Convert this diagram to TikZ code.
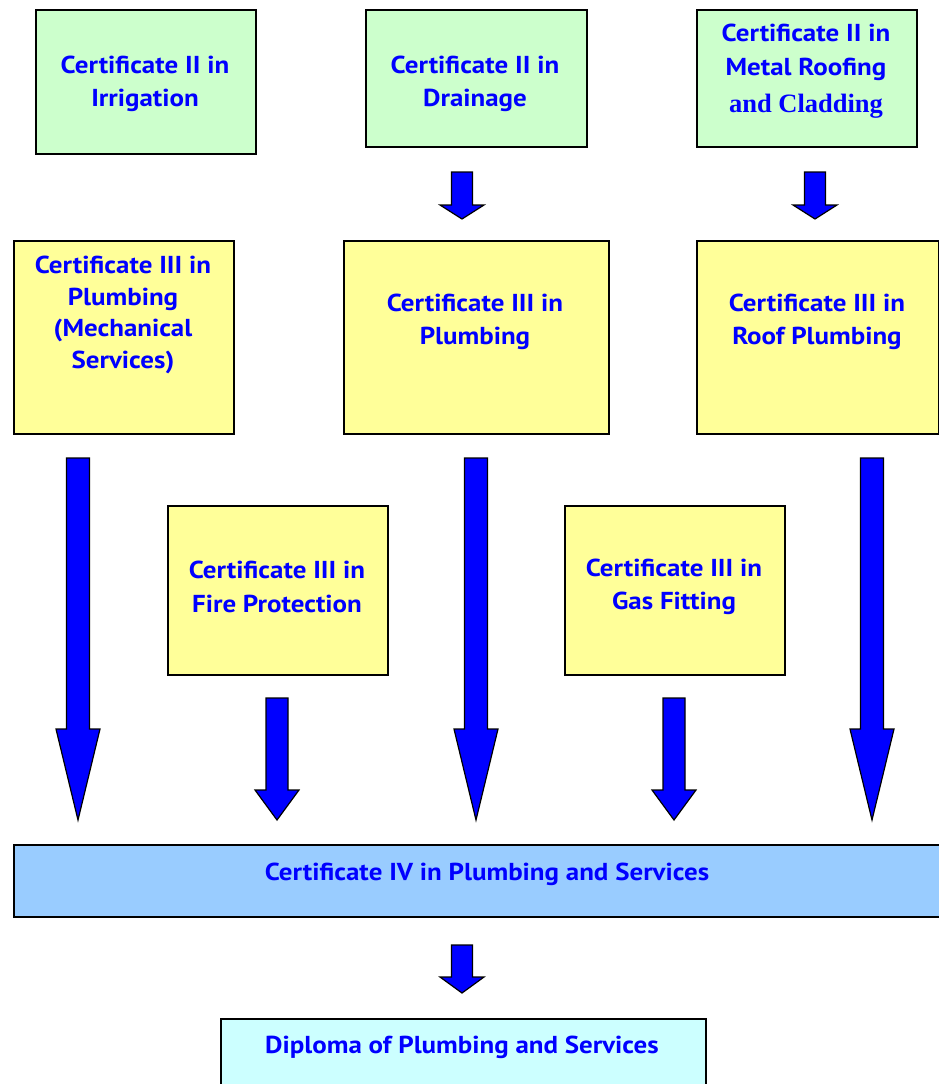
\documentclass[tikz,border=0pt]{standalone}
\usepackage{fontspec}
\setmainfont{PT Sans}[FakeStretch=1.1]
\newfontfamily\serifbold{Liberation Serif}
\definecolor{boxgreen}{HTML}{CCFFCC}
\definecolor{boxyellow}{HTML}{FFFF99}
\definecolor{boxblue}{HTML}{99CCFF}
\definecolor{boxcyan}{HTML}{CCFFFF}
\definecolor{txtblue}{HTML}{0000FF}
\newcommand\blockarrow[6]{% x, ytop, yhead, ytip, shaft half, head half
  \draw[blockarr] ({#1-#5},#2) -- ({#1+#5},#2) -- ({#1+#5},#3) -- ({#1+#6},#3)
    -- (#1,#4) -- ({#1-#6},#3) -- ({#1-#5},#3) -- cycle;}
\begin{document}
\begin{tikzpicture}[x=1pt,y=-1pt,
  cbox/.style={draw=black,line width=1.5pt,anchor=north west,inner sep=0pt},
  green/.style={cbox,fill=boxgreen},
  yellow/.style={cbox,fill=boxyellow},
  ctext/.style={text=txtblue,font=\fontsize{24.5}{33.5}\selectfont\bfseries,align=center,inner sep=0pt},
  blockarr/.style={draw=black,line width=1.2pt,fill=txtblue,line join=miter}]
\useasboundingbox (0,0) rectangle (939,1084);
% row 1
\node[green,minimum width=220pt,minimum height=144pt] (irr) at (35,9) {};
\node[ctext] (irrt) at (145,84) {Certificate II in\\Irrigation};
\node[green,minimum width=221pt,minimum height=137pt] (dra) at (365,9) {};
\node[ctext] (drat) at (475,84) {Certificate II in\\Drainage};
\node[green,minimum width=220pt,minimum height=137pt] (met) at (696,9) {};
\node[ctext,anchor=north] (mett) at (806,24) {Certificate II in\\Metal Roofing\\[4pt]{\serifbold\fontsize{26.5}{36}\selectfont\bfseries and Cladding}};
% row 2
\node[yellow,minimum width=220pt,minimum height=193pt] (mech) at (13,240) {};
\node[ctext,font=\fontsize{24.5}{31.5}\selectfont\bfseries] (mecht) at (123,315) {Certificate III in\\Plumbing\\(Mechanical\\Services)};
\node[yellow,minimum width=265pt,minimum height=193pt] (plu) at (343,240) {};
\node[ctext] (plut) at (475,322) {Certificate III in\\Plumbing};
\node[yellow,minimum width=242pt,minimum height=193pt] (roof) at (696,240) {};
\node[ctext] (rooft) at (817,322) {Certificate III in\\Roof Plumbing};
% row 3
\node[yellow,minimum width=220pt,minimum height=169pt] (fire) at (167,505) {};
\node[ctext] (firet) at (277,587) {Certificate III in\\Fire Protection};
\node[yellow,minimum width=220pt,minimum height=169pt] (gas) at (564,505) {};
\node[ctext] (gast) at (674,587) {Certificate III in\\Gas Fitting};
% cert IV
\node[cbox,fill=boxblue,minimum width=930pt,minimum height=72pt] (c4) at (13,844) {};
\node[ctext] (c4t) at (487,874) {Certificate IV in Plumbing and Services};
% diploma
\node[cbox,fill=boxcyan,minimum width=485pt,minimum height=80pt] (dip) at (220,1018) {};
\node[ctext] (dipt) at (462,1047) {Diploma of Plumbing and Services};
% arrows
\blockarrow{462}{172}{205}{219}{10.5}{22}
\blockarrow{815}{172}{205}{219}{10.5}{22}
\blockarrow{78}{458}{729}{820}{11.5}{22}
\blockarrow{476}{458}{729}{820}{11.5}{22}
\blockarrow{872}{458}{729}{820}{11.5}{22}
\blockarrow{277}{698}{790}{820}{11}{22}
\blockarrow{674}{698}{790}{820}{11}{22}
\blockarrow{462}{945}{977}{993}{10.5}{22}
\end{tikzpicture}
\end{document}
